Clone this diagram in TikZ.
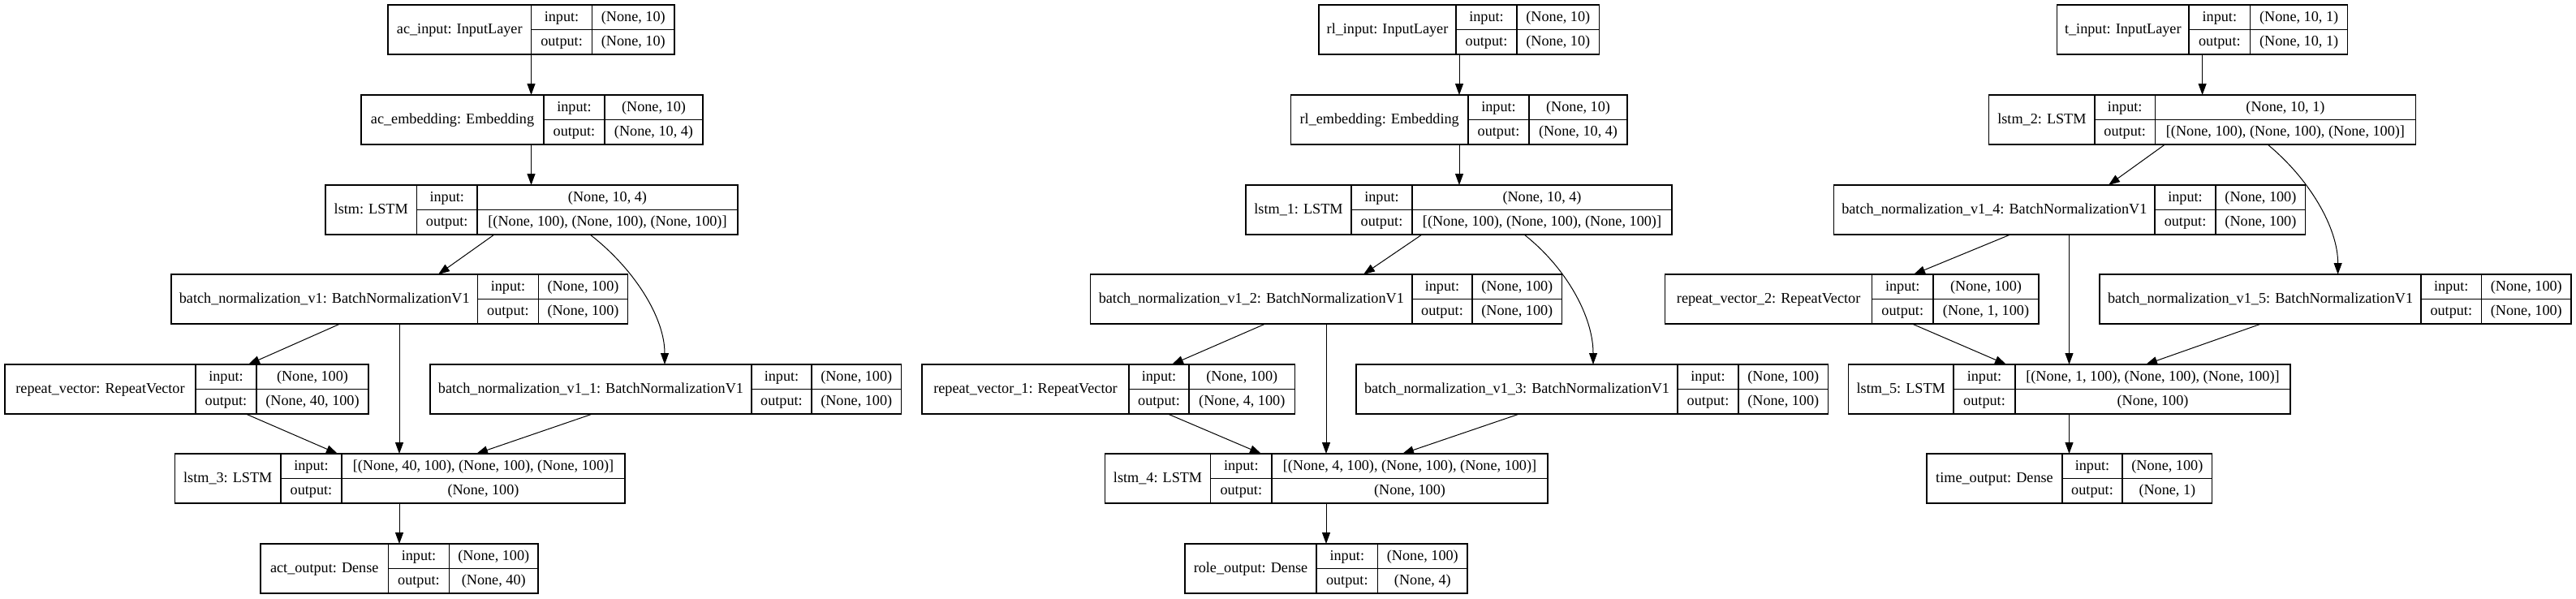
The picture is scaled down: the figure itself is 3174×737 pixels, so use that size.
\documentclass[tikz,border=0pt]{standalone}
\usepackage{fontspec}
\setmainfont{Liberation Serif}
\usetikzlibrary{arrows.meta}
\tikzset{
  box/.style={draw, line width=1.2pt, inner sep=0pt, outer sep=0pt, minimum height=61},
  cellline/.style={line width=1.2pt},
  txt/.style={inner sep=0pt, font=\rmfamily\fontsize{18.2}{20}\selectfont, text height=14pt, text depth=4pt},
  arr/.style={line width=1pt, -{Triangle[length=14pt,width=10pt]}}
}
% #1 name, #2 x1, #3 d1, #4 d2, #5 x2, #6 y1, #7 label, #8 input, #9 output
\newcommand\klayer[9]{%
  \expandafter\xdef\csname kxpos#1\endcsname{#2}%
  \node[box, minimum width={#5-#2}, anchor=north west] (#1) at (#2,#6) {};
  \draw[cellline] (#3,#6) -- (#3,#6+61);
  \draw[cellline] (#4,#6) -- (#4,#6+61);
  \draw[cellline] (#3,#6+30.5) -- (#5,#6+30.5);
  \node[txt] (#1-l) at ({(#2+#3)/2},{#6+30.5}) {#7};
  \node[txt] (#1-a) at ({(#3+#4)/2},{#6+15.25}) {input:};
  \node[txt] (#1-b) at ({(#3+#4)/2},{#6+45.75}) {output:};
  \node[txt] (#1-c) at ({(#4+#5)/2},{#6+15.25}) {#8};
  \node[txt] (#1-d) at ({(#4+#5)/2},{#6+45.75}) {#9};
}
\newcommand\kedge[4]{%
  \draw[arr] ([xshift={#2-\csname kxpos#1\endcsname}]#1.south west) -- ([xshift={#4-\csname kxpos#3\endcsname}]#3.north west);
}
\newcommand\kcurve[6]{%
  \draw[arr] ([xshift={#2-\csname kxpos#1\endcsname}]#1.south west) .. controls (#5) and (#6) .. ([xshift={#4-\csname kxpos#3\endcsname}]#3.north west);
}
\begin{document}
\begin{tikzpicture}[x=1pt, y=-1pt]
\useasboundingbox (0,0) rectangle (3174,737);
% column 1
\klayer{acin}{478}{654.5}{729.6}{831}{6}{ac\_input: InputLayer}{(None, 10)}{(None, 10)}
\klayer{acemb}{445}{670}{745}{866}{117}{ac\_embedding: Embedding}{(None, 10)}{(None, 10, 4)}
\klayer{lstm}{401}{513.5}{588}{909}{228}{lstm: LSTM}{(None, 10, 4)}{[(None, 100), (None, 100), (None, 100)]}
\klayer{bnA}{211}{588.5}{663.5}{773.5}{338}{batch\_normalization\_v1: BatchNormalizationV1}{(None, 100)}{(None, 100)}
\klayer{rvA}{6}{241}{316}{454}{449}{repeat\_vector: RepeatVector}{(None, 100)}{(None, 40, 100)}
\klayer{bnB}{530}{926}{1000}{1110.5}{449}{batch\_normalization\_v1\_1: BatchNormalizationV1}{(None, 100)}{(None, 100)}
\klayer{lstmC}{215.5}{346}{421}{770}{559}{lstm\_3: LSTM}{[(None, 40, 100), (None, 100), (None, 100)]}{(None, 100)}
\klayer{actout}{321}{478.5}{553.5}{663}{670}{act\_output: Dense}{(None, 100)}{(None, 40)}
% column 2
\klayer{rlin}{1625}{1794}{1869}{1970.5}{6}{rl\_input: InputLayer}{(None, 10)}{(None, 10)}
\klayer{rlemb}{1590.4}{1809}{1884}{2005}{117}{rl\_embedding: Embedding}{(None, 10)}{(None, 10, 4)}
\klayer{lstmA}{1535}{1665}{1740}{2060}{228}{lstm\_1: LSTM}{(None, 10, 4)}{[(None, 100), (None, 100), (None, 100)]}
\klayer{bnC}{1343.6}{1740}{1814}{1924.6}{338}{batch\_normalization\_v1\_2: BatchNormalizationV1}{(None, 100)}{(None, 100)}
\klayer{rvB}{1136}{1391}{1465}{1595.5}{449}{repeat\_vector\_1: RepeatVector}{(None, 100)}{(None, 4, 100)}
\klayer{bnD}{1671}{2067}{2142}{2252.5}{449}{batch\_normalization\_v1\_3: BatchNormalizationV1}{(None, 100)}{(None, 100)}
\klayer{lstmD}{1361.5}{1491.6}{1567}{1907}{559}{lstm\_4: LSTM}{[(None, 4, 100), (None, 100), (None, 100)]}{(None, 100)}
\klayer{roleout}{1460}{1622}{1697.6}{1808}{670}{role\_output: Dense}{(None, 100)}{(None, 4)}
% column 3
\klayer{tin}{2534.6}{2697}{2772.6}{2892.7}{6}{t\_input: InputLayer}{(None, 10, 1)}{(None, 10, 1)}
\klayer{lstmB}{2450.8}{2581}{2655.4}{2976.5}{117}{lstm\_2: LSTM}{(None, 10, 1)}{[(None, 100), (None, 100), (None, 100)]}
\klayer{bnE}{2259.6}{2655}{2730}{2840.8}{228}{batch\_normalization\_v1\_4: BatchNormalizationV1}{(None, 100)}{(None, 100)}
\klayer{rvC}{2051.7}{2306.5}{2382}{2512}{338}{repeat\_vector\_2: RepeatVector}{(None, 100)}{(None, 1, 100)}
\klayer{bnF}{2587}{2983}{3057.5}{3168}{338}{batch\_normalization\_v1\_5: BatchNormalizationV1}{(None, 100)}{(None, 100)}
\klayer{lstmE}{2277.4}{2407}{2483}{2822}{449}{lstm\_5: LSTM}{[(None, 1, 100), (None, 100), (None, 100)]}{(None, 100)}
\klayer{timeout}{2374}{2541}{2615}{2725.7}{559}{time\_output: Dense}{(None, 100)}{(None, 1)}
% edges column 1
\kedge{acin}{654.5}{acemb}{654.5}
\kedge{acemb}{654.5}{lstm}{654.5}
\kedge{lstm}{609}{bnA}{540}
\kcurve{lstm}{727}{bnB}{819}{780,330}{819,390}
\kedge{bnA}{419}{rvA}{306}
\kedge{bnA}{492}{lstmC}{492}
\kedge{rvA}{303}{lstmC}{416}
\kedge{bnB}{730}{lstmC}{587}
\kedge{lstmC}{492}{actout}{492}
% edges column 2
\kedge{rlin}{1798}{rlemb}{1798}
\kedge{rlemb}{1798}{lstmA}{1798}
\kedge{lstmA}{1752}{bnC}{1680}
\kcurve{lstmA}{1878}{bnD}{1963}{1930,330}{1963,390}
\kedge{bnC}{1559}{rvB}{1444}
\kedge{bnC}{1634}{lstmD}{1634}
\kedge{rvB}{1439}{lstmD}{1554}
\kedge{bnD}{1872}{lstmD}{1728}
\kedge{lstmD}{1634}{roleout}{1634}
% edges column 3
\kedge{tin}{2713.6}{lstmB}{2713.6}
\kedge{lstmB}{2667.5}{bnE}{2598}
\kcurve{lstmB}{2794}{bnF}{2880.6}{2845,220}{2880.6,280}
\kedge{bnE}{2477}{rvC}{2358}
\kedge{bnE}{2549.5}{lstmE}{2549.5}
\kedge{rvC}{2356}{lstmE}{2472}
\kedge{bnF}{2786}{lstmE}{2644}
\kedge{lstmE}{2549.5}{timeout}{2549.5}
\end{tikzpicture}
\end{document}
